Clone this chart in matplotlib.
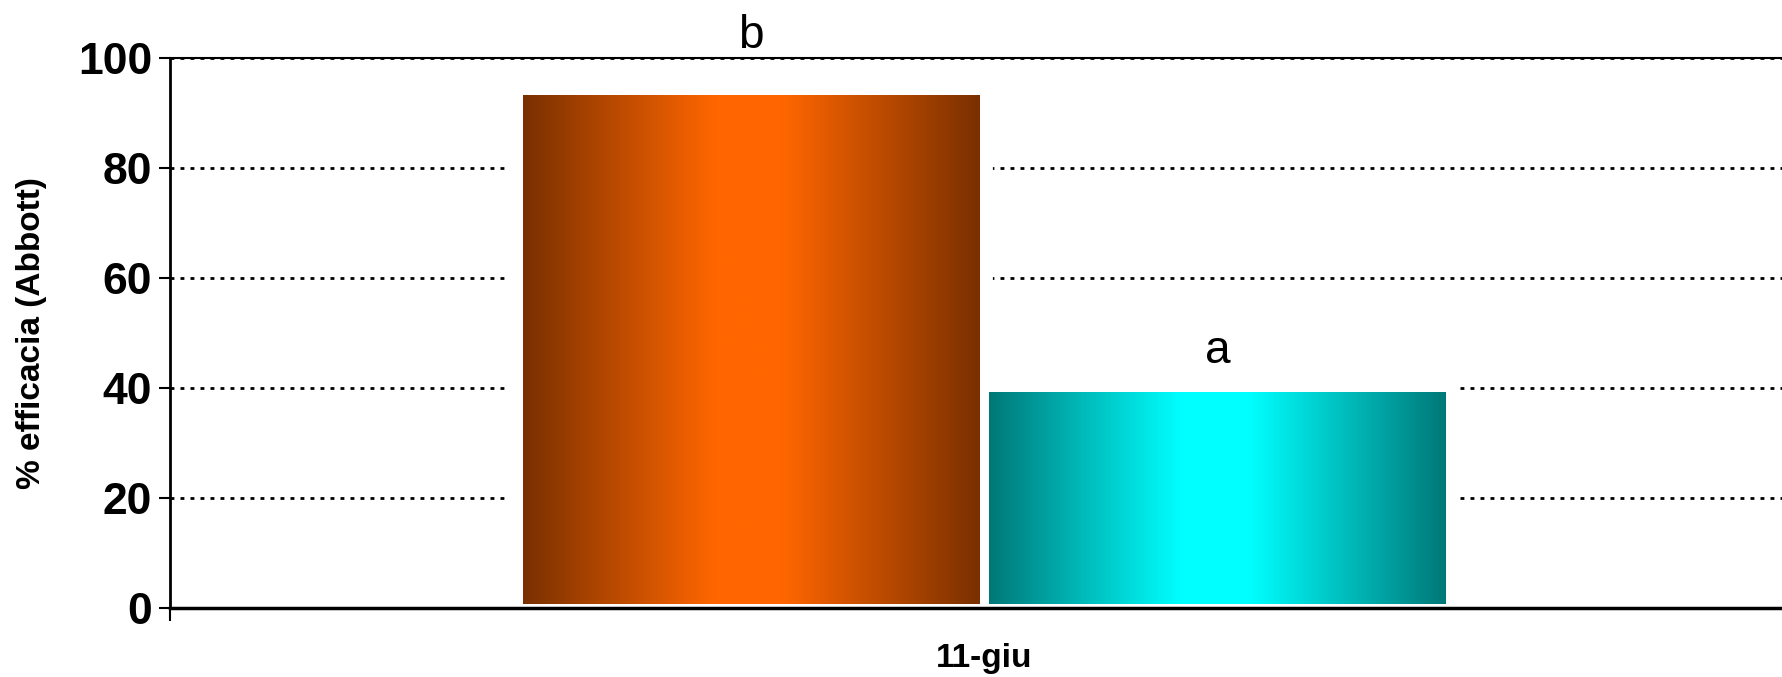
import numpy as np
import matplotlib.pyplot as plt
from matplotlib.colors import LinearSegmentedColormap
from matplotlib.patches import Rectangle

plt.rcParams['font.family'] = ['Liberation Sans', 'DejaVu Sans']

# data
category = '11-giu'
values = [93.4, 39.3]
letters = ['b', 'a']
letter_offsets = [8.4, 5.3]
edge_colors = ['#7a3000', '#007878']
mid_colors = ['#ff6600', '#00ffff']
yticks = [0, 20, 40, 60, 80, 100]

fig = plt.figure(figsize=(17.82, 6.77), dpi=100)
ax = fig.add_axes([0.0955, 0.102, 0.9045, 0.812])

width = 0.2835
starts = [0.2186, 0.508]

for x0, v, lab, off, ec, mc in zip(starts, values, letters, letter_offsets, edge_colors, mid_colors):
    # white backing hides the gridlines around the bar
    ax.bar(x0, v, width=width, align='edge', color='white',
           edgecolor='white', linewidth=20, zorder=2)
    rect = Rectangle((x0, 0.8), width, v - 0.8, facecolor='none', edgecolor='none')
    ax.add_patch(rect)
    cmap = LinearSegmentedColormap.from_list('g', [(0, ec), (0.42, mc), (0.57, mc), (1, ec)])
    grad = np.linspace(0, 1, 256).reshape(1, -1)
    im = ax.imshow(grad, cmap=cmap, aspect='auto', extent=(x0, x0 + width, 0, v),
                   zorder=2.5, interpolation='bicubic')
    im.set_clip_path(rect)
    ax.text(x0 + width / 2, v + off, lab, ha='center', va='baseline', fontsize=33)

ax.set_xlim(0, 1)
ax.set_ylim(0, 100)
ax.set_yticks(yticks)
ax.set_yticklabels([str(t) for t in yticks], fontsize=32, fontweight='bold')
ax.set_xticks([0])
ax.set_xticklabels([''])
ax.set_xticks([0.505], minor=True)
ax.set_xticklabels([category], minor=True, fontsize=24, fontweight='bold')
ax.tick_params(axis='x', which='minor', length=0, pad=25)
ax.tick_params(axis='x', which='major', length=9, width=1.5, direction='out')
ax.tick_params(axis='y', length=8, width=1.5, direction='out', pad=5)
ax.set_ylabel('% efficacia (Abbott)', fontsize=24, fontweight='bold', labelpad=22)

ax.yaxis.grid(True, linestyle=(0, (1.4, 2.2)), color='black', linewidth=2, zorder=1)
ax.set_axisbelow(True)
ax.spines['right'].set_visible(False)
ax.spines['top'].set_linewidth(1.5)
ax.spines['left'].set_linewidth(2)
ax.spines['bottom'].set_linewidth(2.5)
ax.spines['bottom'].set_zorder(4)

fig.savefig('out.png', dpi=100)
